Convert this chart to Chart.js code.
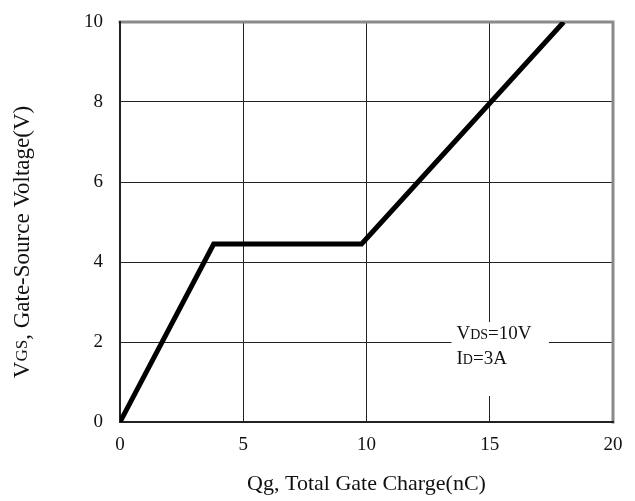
<!DOCTYPE html>
<html>
<head>
<meta charset="utf-8">
<script src="https://cdn.jsdelivr.net/npm/chart.js@4/dist/chart.umd.min.js"></script>
<style>
  html, body { margin: 0; padding: 0; background: #fff; }
  #wrap { width: 635px; height: 501px; }
</style>
</head>
<body>
<div id="wrap"><canvas id="gateChart" width="635" height="501"></canvas></div>
<script>
// Gate charge curve
const gateCharge = [0, 3.8, 9.8, 18];       // nC
const gateVoltage = [0, 4.45, 4.45, 10];    // V
const xTicks = [0, 5, 10, 15, 20];
const yTicks = [0, 2, 4, 6, 8, 10];
const noteLines = [["V", "DS", "=10V"], ["I", "D", "=3A"]];

const serif = "'Liberation Serif', 'Times New Roman', serif";

// draws text with a smaller subscript-ish part on the same baseline
function drawMixed(c, parts, x, y, big, small) {
    let cx = x;
    parts.forEach((p, i) => {
        c.font = (i === 1 ? small : big) + "px " + serif;
        c.fillText(p, cx, y);
        cx += c.measureText(p).width;
    });
    return cx - x;
}
function mixedWidth(c, parts, big, small) {
    let w = 0;
    parts.forEach((p, i) => {
        c.font = (i === 1 ? small : big) + "px " + serif;
        w += c.measureText(p).width;
    });
    return w;
}

const decorPlugin = {
    id: 'decor',
    beforeDatasetsDraw(chart) {
        const c = chart.ctx;
        const a = chart.chartArea;
        const xs = chart.scales.x, ys = chart.scales.y;
        c.save();
        // white box behind the note
        const bx0 = xs.getPixelForValue(13.45), bx1 = xs.getPixelForValue(17.4);
        const by0 = ys.getPixelForValue(2.5), by1 = ys.getPixelForValue(0.65);
        c.fillStyle = '#fff';
        c.fillRect(bx0, by0, bx1 - bx0, by1 - by0);
        // note text
        c.fillStyle = '#111';
        c.textBaseline = 'alphabetic';
        c.textAlign = 'left';
        const tx = xs.getPixelForValue(13.65);
        drawMixed(c, noteLines[0], tx, ys.getPixelForValue(2.08), 19, 14);
        drawMixed(c, noteLines[1], tx, ys.getPixelForValue(1.45), 19, 14);
        // frame
        c.lineCap = 'square';
        c.strokeStyle = '#8a8a8a';
        c.lineWidth = 3;
        c.beginPath();
        c.moveTo(a.left, a.top); c.lineTo(a.right, a.top); c.lineTo(a.right, a.bottom);
        c.stroke();
        c.strokeStyle = '#222';
        c.lineWidth = 2;
        c.beginPath();
        c.moveTo(a.left, a.top); c.lineTo(a.left, a.bottom); c.lineTo(a.right, a.bottom);
        c.stroke();
        c.restore();
    },
    afterDraw(chart) {
        const c = chart.ctx;
        const a = chart.chartArea;
        c.save();
        c.fillStyle = '#111';
        c.textBaseline = 'middle';
        // x title
        c.font = "22px " + serif;
        c.textAlign = 'center';
        c.fillText("Qg, Total Gate Charge(nC)", (a.left + a.right) / 2, 484);
        // y title, rotated, with GS smaller
        const parts = ["V", "GS", ", Gate-Source Voltage(V)"];
        const w = mixedWidth(c, parts, 23, 17);
        c.translate(23, 242);
        c.rotate(-Math.PI / 2);
        c.textAlign = 'left';
        drawMixed(c, parts, -w / 2, 0, 23, 17);
        c.restore();
    }
};

new Chart(document.getElementById('gateChart'), {
    type: 'line',
    data: {
        datasets: [{
            data: gateCharge.map((q, i) => ({ x: q, y: gateVoltage[i] })),
            borderColor: '#000',
            borderWidth: 5,
            pointRadius: 0,
            tension: 0,
            fill: false
        }]
    },
    options: {
        responsive: false,
        animation: false,
        layout: { padding: { left: 0, right: 22, top: 22, bottom: 0 } },
        plugins: { legend: { display: false }, tooltip: { enabled: false } },
        scales: {
            x: {
                type: 'linear',
                min: 0, max: 20,
                afterFit(scale) {
                    scale.height = 79;
                    scale.paddingLeft = 0;
                    scale.paddingRight = 0;
                },
                afterBuildTicks(scale) { scale.ticks = xTicks.map(v => ({ value: v })); },
                border: { display: false },
                grid: {
                    drawTicks: false,
                    color: ctx => (ctx.tick && (ctx.tick.value === 0 || ctx.tick.value === 20)) ? 'rgba(0,0,0,0)' : '#222',
                    lineWidth: 1
                },
                ticks: {
                    padding: 12,
                    color: '#111',
                    font: { family: serif, size: 19 }
                }
            },
            y: {
                type: 'linear',
                min: 0, max: 10,
                afterFit(scale) {
                    scale.width = 120;
                    scale.paddingTop = 0;
                    scale.paddingBottom = 0;
                },
                afterBuildTicks(scale) { scale.ticks = yTicks.map(v => ({ value: v })); },
                border: { display: false },
                grid: {
                    drawTicks: false,
                    color: ctx => (ctx.tick && (ctx.tick.value === 0 || ctx.tick.value === 10)) ? 'rgba(0,0,0,0)' : '#222',
                    lineWidth: 1
                },
                ticks: {
                    padding: 17,
                    color: '#111',
                    font: { family: serif, size: 19 }
                }
            }
        }
    },
    plugins: [decorPlugin]
});
</script>
</body>
</html>
